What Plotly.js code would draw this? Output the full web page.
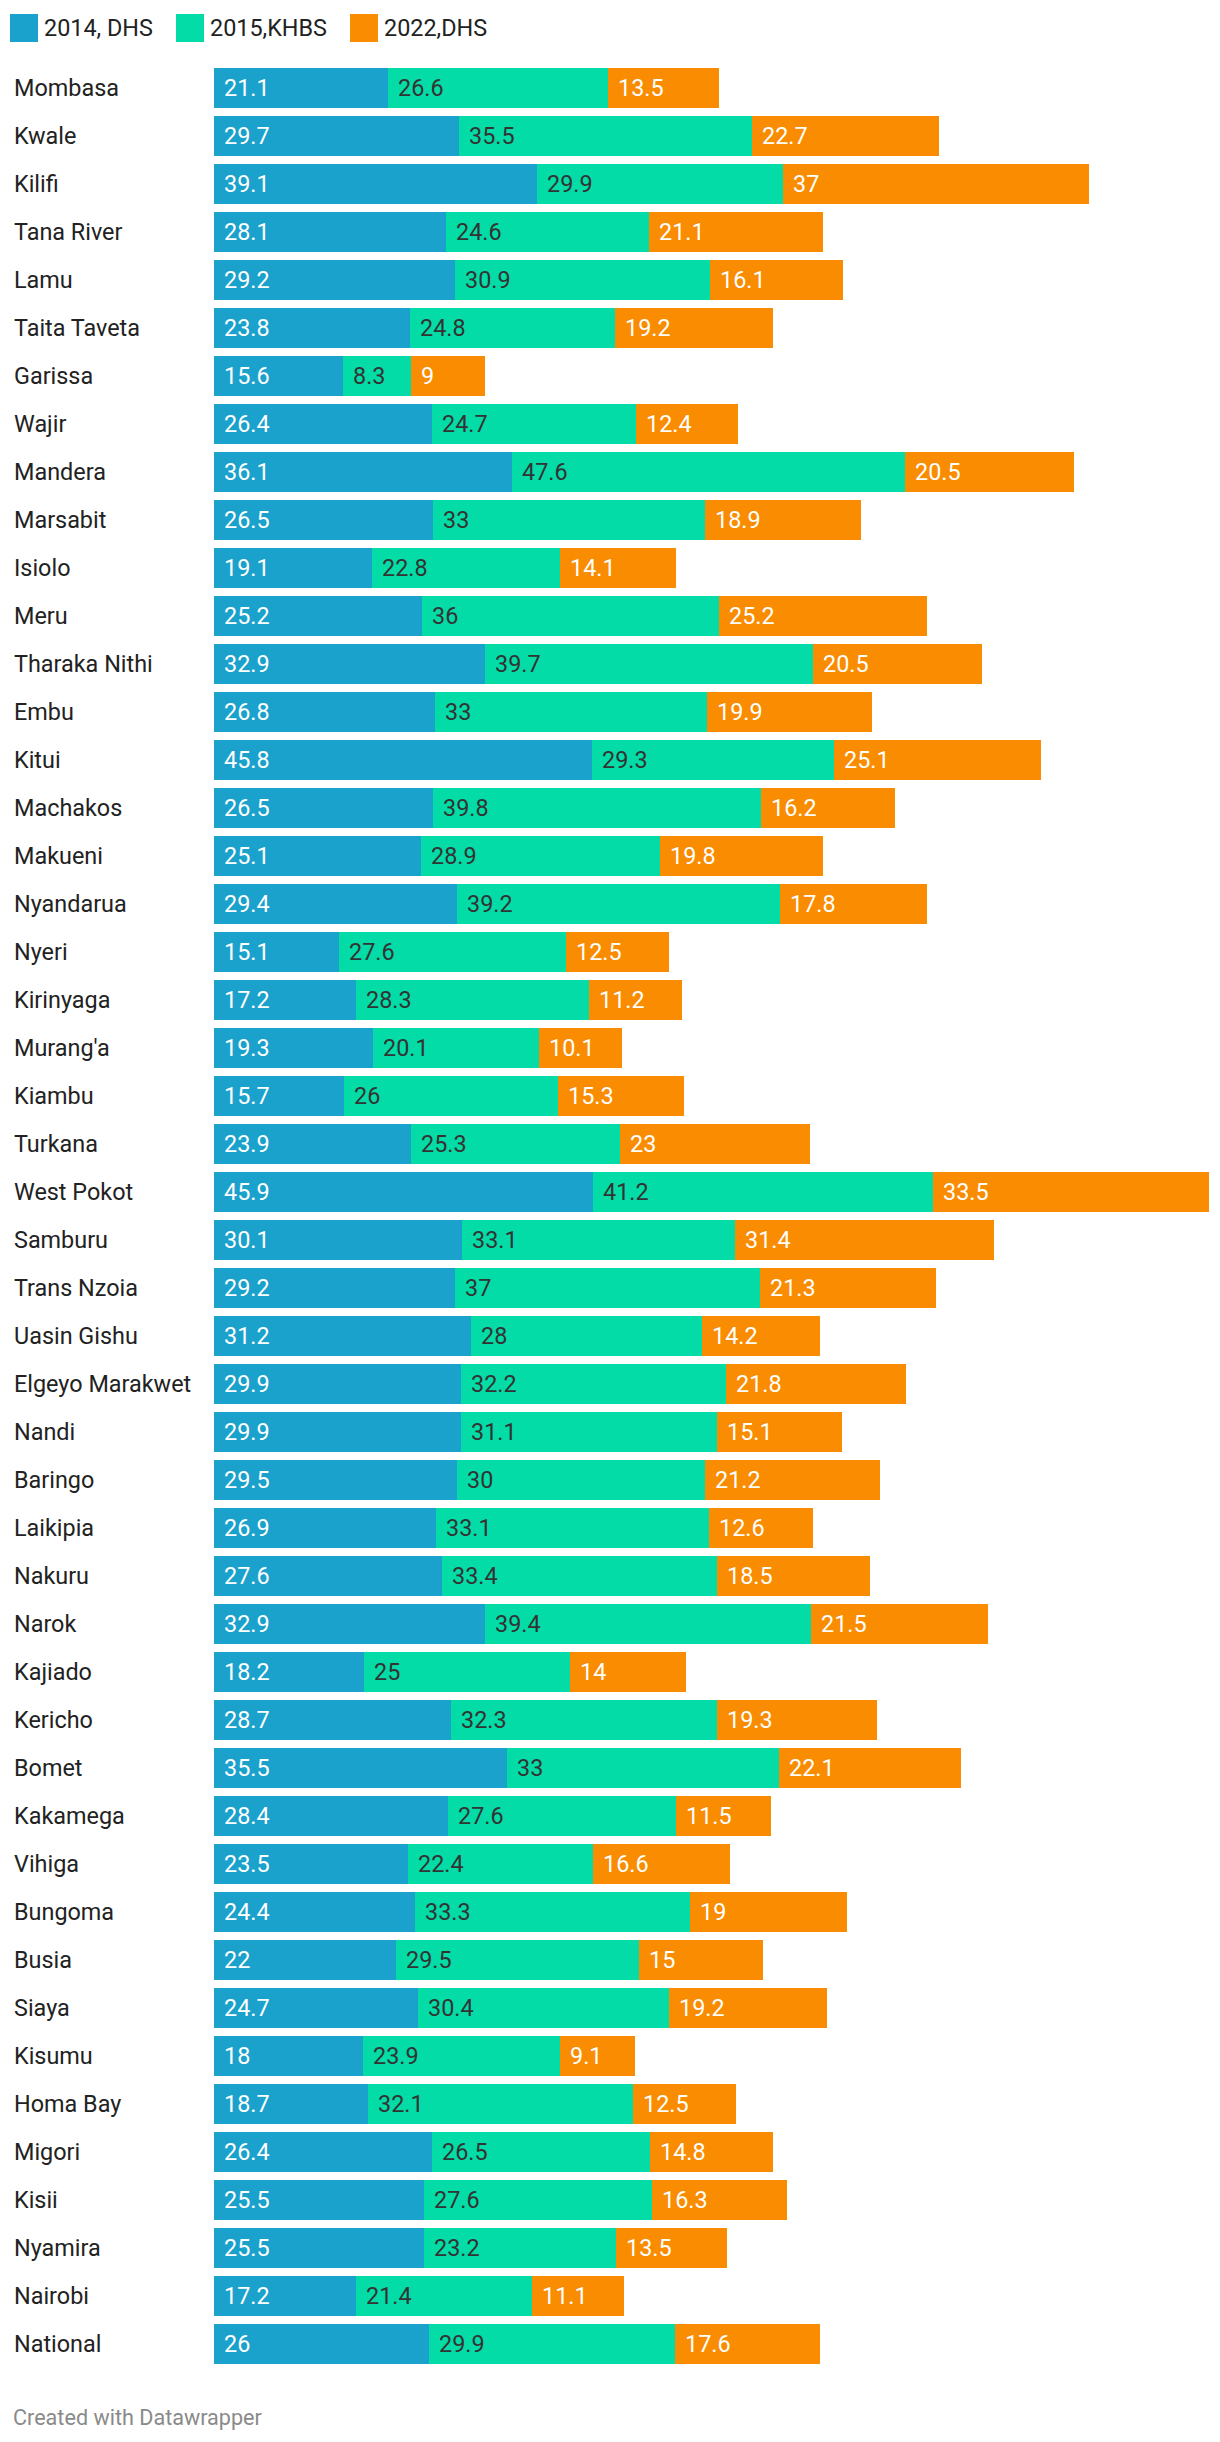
<!DOCTYPE html>
<html>
<head>
<meta charset="utf-8">
<script src="https://cdn.plot.ly/plotly-3.0.1.min.js"></script>
<style>
html,body{margin:0;padding:0;background:#fff;}
#chart{width:1220px;height:2442px;}
</style>
</head>
<body>
<div id="chart"></div>
<script>
const counties = ["Mombasa","Kwale","Kilifi","Tana River","Lamu","Taita Taveta","Garissa","Wajir","Mandera","Marsabit","Isiolo","Meru","Tharaka Nithi","Embu","Kitui","Machakos","Makueni","Nyandarua","Nyeri","Kirinyaga","Murang'a","Kiambu","Turkana","West Pokot","Samburu","Trans Nzoia","Uasin Gishu","Elgeyo Marakwet","Nandi","Baringo","Laikipia","Nakuru","Narok","Kajiado","Kericho","Bomet","Kakamega","Vihiga","Bungoma","Busia","Siaya","Kisumu","Homa Bay","Migori","Kisii","Nyamira","Nairobi","National"];
const dhs2014 = [21.1,29.7,39.1,28.1,29.2,23.8,15.6,26.4,36.1,26.5,19.1,25.2,32.9,26.8,45.8,26.5,25.1,29.4,15.1,17.2,19.3,15.7,23.9,45.9,30.1,29.2,31.2,29.9,29.9,29.5,26.9,27.6,32.9,18.2,28.7,35.5,28.4,23.5,24.4,22,24.7,18,18.7,26.4,25.5,25.5,17.2,26];
const khbs2015 = [26.6,35.5,29.9,24.6,30.9,24.8,8.3,24.7,47.6,33,22.8,36,39.7,33,29.3,39.8,28.9,39.2,27.6,28.3,20.1,26,25.3,41.2,33.1,37,28,32.2,31.1,30,33.1,33.4,39.4,25,32.3,33,27.6,22.4,33.3,29.5,30.4,23.9,32.1,26.5,27.6,23.2,21.4,29.9];
const dhs2022 = [13.5,22.7,37,21.1,16.1,19.2,9,12.4,20.5,18.9,14.1,25.2,20.5,19.9,25.1,16.2,19.8,17.8,12.5,11.2,10.1,15.3,23,33.5,31.4,21.3,14.2,21.8,15.1,21.2,12.6,18.5,21.5,14,19.3,22.1,11.5,16.6,19,15,19.2,9.1,12.5,14.8,16.3,13.5,11.1,17.6];
const seriesNames = ["2014, DHS","2015,KHBS","2022,DHS"];

const colors = ["#1aa1cc","#03dca6","#f98c00"];
const labelColors = ["#ffffff","#333333","#ffffff"];
const FONT = "Roboto, 'Noto Sans', sans-serif";

const series = [dhs2014, khbs2015, dhs2022];
const traces = series.map((vals, i) => ({
  type: "bar",
  orientation: "h",
  name: seriesNames[i],
  y: counties,
  x: vals,
  marker: {color: colors[i], line: {width: 0}},
  hoverinfo: "x+name",
  showlegend: false
}));

const annotations = [];
// category labels
counties.forEach(c => {
  annotations.push({
    xref: "paper", yref: "y", x: 0, y: c, xshift: -202,
    xanchor: "left", yanchor: "middle", showarrow: false,
    text: c, font: {family: FONT, size: 23.4, color: "#222222"}
  });
});
// value labels
counties.forEach((c, j) => {
  let start = 0;
  series.forEach((vals, i) => {
    annotations.push({
      xref: "x", yref: "y", x: start, y: c, xshift: 8,
      xanchor: "left", yanchor: "middle", showarrow: false,
      text: String(vals[j]), font: {family: FONT, size: 23.4, color: labelColors[i]}
    });
    start += vals[j];
  });
});

// legend
const legendX = [-204, -38, 136];
const shapes = [];
seriesNames.forEach((n, i) => {
  shapes.push({
    type: "rect", xref: "paper", yref: "paper",
    xsizemode: "pixel", ysizemode: "pixel", xanchor: 0, yanchor: 1,
    x0: legendX[i], x1: legendX[i] + 28, y0: 22, y1: 50,
    fillcolor: colors[i], line: {width: 0}
  });
  annotations.push({
    xref: "paper", yref: "paper", x: 0, y: 1, xshift: legendX[i] + 32, yshift: 36,
    xanchor: "left", yanchor: "middle", showarrow: false,
    text: n, font: {family: FONT, size: 23.4, color: "#222222"}
  });
});
// footer
annotations.push({
  xref: "paper", yref: "paper", x: 0, y: 0, xshift: -203, yshift: -49,
  xanchor: "left", yanchor: "middle", showarrow: false,
  text: "Created with Datawrapper", font: {family: FONT, size: 21.6, color: "#8a8a8a"}
});

const layout = {
  width: 1220, height: 2442,
  margin: {l: 214, r: 11, t: 64, b: 74, pad: 0},
  paper_bgcolor: "#ffffff", plot_bgcolor: "#ffffff",
  barmode: "stack", bargap: 0.177,
  font: {family: FONT},
  xaxis: {range: [0, 120.6], visible: false, fixedrange: true},
  yaxis: {autorange: "reversed", showticklabels: false, showgrid: false, zeroline: false, ticks: "", fixedrange: true},
  annotations: annotations,
  shapes: shapes,
  showlegend: false
};

Plotly.newPlot("chart", traces, layout, {displayModeBar: false, staticPlot: true});
</script>
</body>
</html>
